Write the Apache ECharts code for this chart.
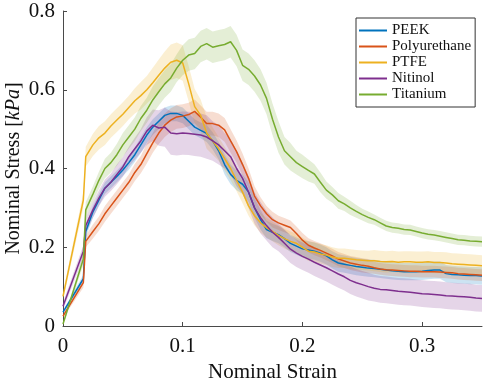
<!DOCTYPE html>
<html>
<head>
<meta charset="utf-8">
<script src="https://cdn.jsdelivr.net/npm/echarts@6/dist/echarts.min.js"></script>
<style>html,body{margin:0;padding:0;background:#fff}#c{width:484px;height:381px}</style>
</head>
<body>
<div id="c"></div>
<script>
// ---- data ----
const strain = [
  0, 0.017, 0.019, 0.025, 0.03, 0.035, 0.04, 0.045, 0.05, 0.055,
  0.06, 0.065, 0.07, 0.075, 0.08, 0.085, 0.09, 0.095, 0.1, 0.105,
  0.11, 0.115, 0.12, 0.125, 0.13, 0.135, 0.14, 0.145, 0.15, 0.155,
  0.16, 0.165, 0.17, 0.175, 0.18, 0.185, 0.19, 0.195, 0.2, 0.205,
  0.21, 0.215, 0.22, 0.225, 0.23, 0.235, 0.24, 0.245, 0.25, 0.255,
  0.26, 0.265, 0.27, 0.275, 0.28, 0.285, 0.29, 0.295, 0.3, 0.305,
  0.31, 0.315, 0.32, 0.325, 0.33, 0.335, 0.34, 0.345, 0.35
];
const peek = [
  0.035, 0.12, 0.24, 0.29, 0.32, 0.35, 0.365, 0.38, 0.396, 0.415,
  0.435, 0.46, 0.485, 0.505, 0.52, 0.535, 0.54, 0.54, 0.535, 0.52,
  0.505, 0.497, 0.489, 0.47, 0.445, 0.41, 0.385, 0.37, 0.36, 0.34,
  0.30, 0.27, 0.245, 0.238, 0.232, 0.222, 0.21, 0.203, 0.196, 0.193,
  0.19, 0.185, 0.178, 0.168, 0.16, 0.157, 0.154, 0.151, 0.149, 0.147,
  0.146, 0.144, 0.142, 0.14, 0.139, 0.138, 0.138, 0.138, 0.139, 0.141,
  0.142, 0.142, 0.133, 0.131, 0.13, 0.129, 0.128, 0.128, 0.127
];
const peekSd = [
  0.005, 0.01, 0.015, 0.015, 0.015, 0.015, 0.015, 0.015, 0.015, 0.018,
  0.018, 0.02, 0.02, 0.02, 0.02, 0.02, 0.02, 0.02, 0.02, 0.02,
  0.02, 0.02, 0.022, 0.022, 0.022, 0.025, 0.025, 0.025, 0.025, 0.025,
  0.025, 0.025, 0.022, 0.022, 0.022, 0.022, 0.022, 0.022, 0.022, 0.022,
  0.022, 0.022, 0.022, 0.022, 0.022, 0.022, 0.022, 0.022, 0.022, 0.022,
  0.022, 0.022, 0.022, 0.022, 0.022, 0.022, 0.022, 0.022, 0.022, 0.022,
  0.022, 0.022, 0.022, 0.022, 0.022, 0.022, 0.022, 0.022, 0.022
];
const polyurethane = [
  0.025, 0.11, 0.215, 0.24, 0.26, 0.285, 0.305, 0.325, 0.345, 0.365,
  0.39, 0.41, 0.438, 0.465, 0.49, 0.51, 0.523, 0.531, 0.533, 0.537,
  0.545, 0.53, 0.514, 0.514, 0.51, 0.498, 0.47, 0.443, 0.41, 0.375,
  0.33, 0.305, 0.285, 0.27, 0.262, 0.256, 0.25, 0.235, 0.218, 0.205,
  0.198, 0.192, 0.185, 0.178, 0.17, 0.165, 0.16, 0.157, 0.154, 0.152,
  0.148, 0.145, 0.143, 0.142, 0.141, 0.14, 0.139, 0.139, 0.138, 0.138,
  0.138, 0.137, 0.136, 0.135, 0.133, 0.132, 0.131, 0.13, 0.129
];
const polyurethaneSd = [
  0.005, 0.012, 0.015, 0.018, 0.018, 0.02, 0.02, 0.02, 0.02, 0.02,
  0.022, 0.022, 0.025, 0.025, 0.028, 0.03, 0.03, 0.03, 0.03, 0.03,
  0.03, 0.03, 0.03, 0.03, 0.03, 0.03, 0.03, 0.028, 0.028, 0.025,
  0.025, 0.022, 0.02, 0.02, 0.018, 0.018, 0.018, 0.018, 0.018, 0.018,
  0.018, 0.018, 0.018, 0.018, 0.018, 0.018, 0.018, 0.018, 0.018, 0.018,
  0.015, 0.015, 0.015, 0.015, 0.015, 0.015, 0.015, 0.015, 0.015, 0.015,
  0.015, 0.015, 0.015, 0.015, 0.015, 0.015, 0.015, 0.015, 0.015
];
const ptfe = [
  0.075, 0.32, 0.43, 0.46, 0.478, 0.49, 0.508, 0.523, 0.538, 0.555,
  0.572, 0.585, 0.60, 0.618, 0.637, 0.655, 0.67, 0.675, 0.668, 0.615,
  0.557, 0.535, 0.49, 0.47, 0.45, 0.425, 0.40, 0.37, 0.34, 0.305,
  0.28, 0.262, 0.25, 0.24, 0.23, 0.222, 0.215, 0.21, 0.2, 0.19,
  0.188, 0.183, 0.18, 0.175, 0.172, 0.172, 0.17, 0.168, 0.167, 0.166,
  0.166, 0.164, 0.163, 0.164, 0.162, 0.163, 0.163, 0.162, 0.162, 0.163,
  0.161, 0.161, 0.16, 0.158, 0.157, 0.156, 0.155, 0.154, 0.153
];
const ptfeSd = [
  0.01, 0.02, 0.025, 0.028, 0.03, 0.03, 0.03, 0.03, 0.03, 0.03,
  0.032, 0.035, 0.035, 0.038, 0.04, 0.042, 0.045, 0.045, 0.045, 0.045,
  0.045, 0.04, 0.04, 0.035, 0.03, 0.03, 0.03, 0.028, 0.028, 0.025,
  0.025, 0.025, 0.025, 0.025, 0.025, 0.025, 0.025, 0.025, 0.025, 0.025,
  0.025, 0.025, 0.025, 0.025, 0.025, 0.025, 0.025, 0.025, 0.025, 0.025,
  0.027, 0.027, 0.027, 0.027, 0.027, 0.027, 0.027, 0.027, 0.027, 0.027,
  0.027, 0.027, 0.027, 0.027, 0.027, 0.027, 0.027, 0.027, 0.027
];
const nitinol = [
  0.05, 0.19, 0.255, 0.295, 0.325, 0.35, 0.365, 0.385, 0.404, 0.43,
  0.45, 0.47, 0.495, 0.51, 0.503, 0.505, 0.49, 0.488, 0.49, 0.489,
  0.487, 0.485, 0.48, 0.47, 0.46, 0.445, 0.43, 0.40, 0.375, 0.34,
  0.30, 0.275, 0.255, 0.238, 0.225, 0.21, 0.195, 0.185, 0.177, 0.17,
  0.162, 0.155, 0.148, 0.14, 0.132, 0.125, 0.116, 0.11, 0.105, 0.1,
  0.096, 0.093, 0.092, 0.09, 0.088, 0.087, 0.086, 0.084, 0.082, 0.081,
  0.08, 0.079, 0.077, 0.076, 0.075, 0.074, 0.073, 0.071, 0.07
];
const nitinolSd = [
  0.01, 0.015, 0.02, 0.02, 0.02, 0.022, 0.022, 0.025, 0.025, 0.025,
  0.028, 0.03, 0.035, 0.04, 0.045, 0.05, 0.055, 0.055, 0.055, 0.055,
  0.055, 0.055, 0.055, 0.05, 0.05, 0.045, 0.045, 0.045, 0.04, 0.04,
  0.04, 0.04, 0.038, 0.038, 0.035, 0.035, 0.035, 0.035, 0.035, 0.035,
  0.035, 0.035, 0.035, 0.035, 0.035, 0.035, 0.035, 0.035, 0.035, 0.035,
  0.034, 0.034, 0.034, 0.034, 0.034, 0.034, 0.034, 0.034, 0.034, 0.034,
  0.034, 0.034, 0.034, 0.034, 0.034, 0.034, 0.034, 0.034, 0.034
];
const titanium = [
  0.005, 0.17, 0.295, 0.335, 0.37, 0.40, 0.415, 0.435, 0.46, 0.48,
  0.50, 0.527, 0.548, 0.574, 0.595, 0.615, 0.63, 0.655, 0.675, 0.688,
  0.692, 0.71, 0.717, 0.708, 0.712, 0.715, 0.722, 0.70, 0.662, 0.652,
  0.635, 0.612, 0.578, 0.525, 0.48, 0.445, 0.43, 0.415, 0.405, 0.395,
  0.386, 0.365, 0.345, 0.333, 0.318, 0.31, 0.30, 0.291, 0.283, 0.276,
  0.27, 0.262, 0.254, 0.25, 0.248, 0.245, 0.244, 0.24, 0.236, 0.233,
  0.231, 0.228, 0.225, 0.222, 0.219, 0.218, 0.216, 0.215, 0.214
];
const titaniumSd = [
  0.005, 0.015, 0.02, 0.02, 0.022, 0.025, 0.025, 0.028, 0.03, 0.03,
  0.03, 0.032, 0.032, 0.035, 0.035, 0.035, 0.035, 0.035, 0.038, 0.04,
  0.04, 0.04, 0.04, 0.04, 0.04, 0.04, 0.04, 0.04, 0.04, 0.04,
  0.04, 0.04, 0.04, 0.04, 0.04, 0.035, 0.035, 0.03, 0.03, 0.028,
  0.025, 0.025, 0.022, 0.02, 0.02, 0.018, 0.018, 0.016, 0.015, 0.015,
  0.013, 0.013, 0.013, 0.013, 0.013, 0.013, 0.013, 0.013, 0.013, 0.013,
  0.013, 0.013, 0.013, 0.013, 0.013, 0.013, 0.013, 0.013, 0.013
];
const materials = ['PEEK', 'Polyurethane', 'PTFE', 'Nitinol', 'Titanium'];
const xTicks = [0, 0.1, 0.2, 0.3];
const yTicks = [0, 0.2, 0.4, 0.6, 0.8];

// ---- chart ----
const colors = ['#0072BD', '#D95319', '#EDB120', '#7E2F8E', '#77AC30'];
const means = [peek, polyurethane, ptfe, nitinol, titanium];
const sds = [peekSd, polyurethaneSd, ptfeSd, nitinolSd, titaniumSd];
const FONT = 'Liberation Serif';

const series = [];
materials.forEach((name, k) => {
  const ys = means[k], sd = sds[k];
  series.push({
    type: 'custom', name: name + ' std', silent: true, z: 1,
    data: [[strain[0], ys[0]]],
    clip: true,
    renderItem: function (params, api) {
      const pts = [];
      for (let i = 0; i < strain.length; i++) pts.push(api.coord([strain[i], ys[i] + sd[i]]));
      for (let i = strain.length - 1; i >= 0; i--) pts.push(api.coord([strain[i], ys[i] - sd[i]]));
      return { type: 'polygon', shape: { points: pts }, style: { fill: colors[k], opacity: 0.2 } };
    }
  });
});
materials.forEach((name, k) => {
  series.push({
    type: 'line', name: name, z: 3,
    data: strain.map((x, i) => [x, means[k][i]]),
    showSymbol: false, symbol: 'none',
    color: colors[k],
    lineStyle: { width: 1.5, color: colors[k] },
    itemStyle: { color: colors[k] },
    animation: false
  });
});

const axisCol = '#4a4a4a';
const chart = echarts.init(document.getElementById('c'), null, { renderer: 'canvas' });
chart.setOption({
  animation: false,
  backgroundColor: '#fff',
  grid: { left: 63, right: 2, top: 11, bottom: 55, containLabel: false, outerBoundsMode: 'none' },
  legend: {
    data: materials, orient: 'vertical', left: 356, top: 18,
    icon: 'rect', itemWidth: 28, itemHeight: 2, itemGap: 1,
    padding: [5, 4, 5, 3],
    borderColor: '#333', borderWidth: 1, backgroundColor: '#fff',
    textStyle: { fontFamily: FONT, fontSize: 15, color: '#111', lineHeight: 14 }
  },
  xAxis: {
    type: 'value', min: 0, max: 0.35, interval: 0.1,
    name: 'Nominal Strain', nameLocation: 'middle', nameGap: 31,
    nameTextStyle: { fontFamily: FONT, fontSize: 21, color: '#111' },
    axisLine: { show: true, lineStyle: { color: axisCol, width: 1 } },
    axisTick: { show: true, inside: true, length: 4, lineStyle: { color: axisCol }, customValues: xTicks },
    axisLabel: { fontFamily: FONT, fontSize: 21, color: '#111', margin: 10, customValues: xTicks },
    splitLine: { show: false }
  },
  yAxis: {
    type: 'value', min: 0, max: 0.8, interval: 0.2,
    name: 'Nominal Stress [{i|kPa}]', nameLocation: 'middle', nameGap: 39,
    nameMoveOverlap: false,
    nameTextStyle: { fontFamily: FONT, fontSize: 20, color: '#111',
      rich: { i: { fontFamily: FONT, fontSize: 20, fontStyle: 'italic', color: '#111' } } },
    axisLine: { show: true, lineStyle: { color: axisCol, width: 1 } },
    axisTick: { show: true, inside: true, length: 4, lineStyle: { color: axisCol }, customValues: yTicks },
    axisLabel: { fontFamily: FONT, fontSize: 21, color: '#111', margin: 8, customValues: yTicks },
    splitLine: { show: false }
  },
  series: series
});
</script>
</body>
</html>
